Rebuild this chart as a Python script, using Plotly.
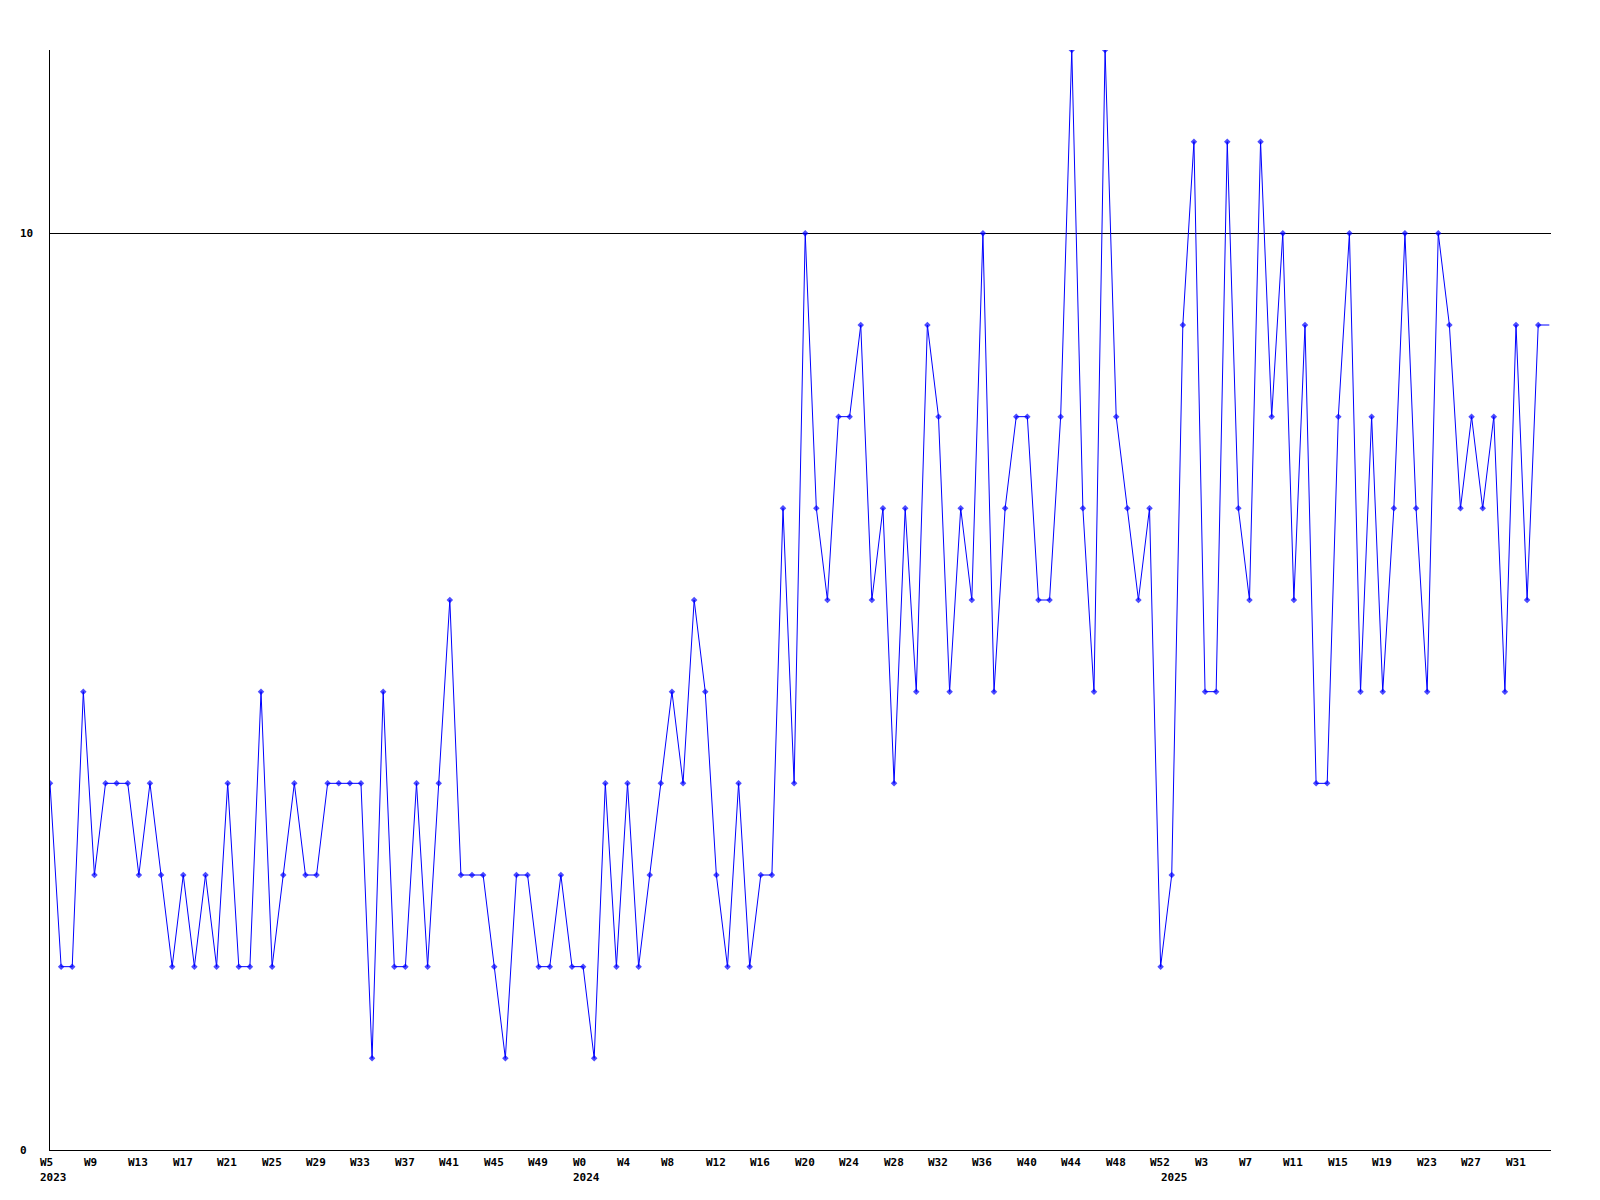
import plotly.graph_objects as go

# weekly values (last one continues past the right edge)
values = [4, 2, 2, 5, 3, 4, 4, 4, 3, 4,
          3, 2, 3, 2, 3, 2, 4, 2, 2, 5,
          2, 3, 4, 3, 3, 4, 4, 4, 4, 1,
          5, 2, 2, 4, 2, 4, 6, 3, 3, 3,
          2, 1, 3, 3, 2, 2, 3, 2, 2, 1,
          4, 2, 4, 2, 3, 4, 5, 4, 6, 5,
          3, 2, 4, 2, 3, 3, 7, 4, 10, 7,
          6, 8, 8, 9, 6, 7, 4, 7, 5, 9,
          8, 5, 7, 6, 10, 5, 7, 8, 8, 6,
          6, 8, 12, 7, 5, 12, 8, 7, 6, 7,
          2, 3, 9, 11, 5, 5, 11, 7, 6, 11,
          8, 10, 6, 9, 4, 4, 8, 10, 5, 8,
          5, 7, 10, 7, 5, 10, 9, 7, 8, 7,
          8, 5, 9, 6, 9, 9]

week_labels = ["W5", "W9", "W13", "W17", "W21", "W25", "W29", "W33", "W37", "W41",
               "W45", "W49", "W0", "W4", "W8", "W12", "W16", "W20", "W24", "W28",
               "W32", "W36", "W40", "W44", "W48", "W52", "W3", "W7", "W11", "W15",
               "W19", "W23", "W27", "W31"]
year_labels = ["2023", "2024", "2025"]
year_start_index = [0, 48, 101]   # first week of each year in the series
y_tick_values = [0, 10]

LABEL_EVERY = 4
x = list(range(len(values)))
n_visible = len(values) - 1

FONT = dict(family="DejaVu Sans Mono", size=11, color="black", weight="bold")

fig = go.Figure()
fig.add_trace(go.Scatter(
    x=x, y=values, mode="lines+markers",
    line=dict(color="#0000ff", width=1),
    marker=dict(symbol="diamond", color="#0000ff",
                size=[5] * n_visible + [0], line=dict(width=0)),
    hoverinfo="x+y", showlegend=False,
))

annotations = []
for k, lab in enumerate(week_labels):
    annotations.append(dict(
        x=k * LABEL_EVERY, xref="x", y=0, yref="paper",
        text=lab, showarrow=False, xanchor="left", yanchor="middle",
        xshift=-11.5, yshift=-12, borderpad=0, font=FONT))
for lab, idx in zip(year_labels, year_start_index):
    annotations.append(dict(
        x=idx, xref="x", y=0, yref="paper",
        text=lab, showarrow=False, xanchor="left", yanchor="middle",
        xshift=-11.5, yshift=-27, borderpad=0, font=FONT))
for v in y_tick_values:
    annotations.append(dict(
        x=0, xref="paper", y=v, yref="y",
        text=str(v), showarrow=False, xanchor="left", yanchor="middle",
        xshift=-31.5, borderpad=0, font=FONT))

fig.update_layout(
    width=1600, height=1200,
    margin=dict(l=50, r=49, t=50, b=50, pad=0),
    paper_bgcolor="white", plot_bgcolor="white",
    showlegend=False,
    annotations=annotations,
    xaxis=dict(range=[0, 135.15], showline=True, linecolor="black", linewidth=1,
               showgrid=False, zeroline=False, showticklabels=False, ticks=""),
    yaxis=dict(range=[0, 12], showline=True, linecolor="black", linewidth=1,
               tickvals=y_tick_values, showgrid=True, gridcolor="black", gridwidth=1,
               zeroline=False, showticklabels=False, ticks=""),
)

fig.write_html("out.html",
               config={"displayModeBar": False},
               post_script="document.body.style.margin='0';document.body.style.overflow='hidden';")
